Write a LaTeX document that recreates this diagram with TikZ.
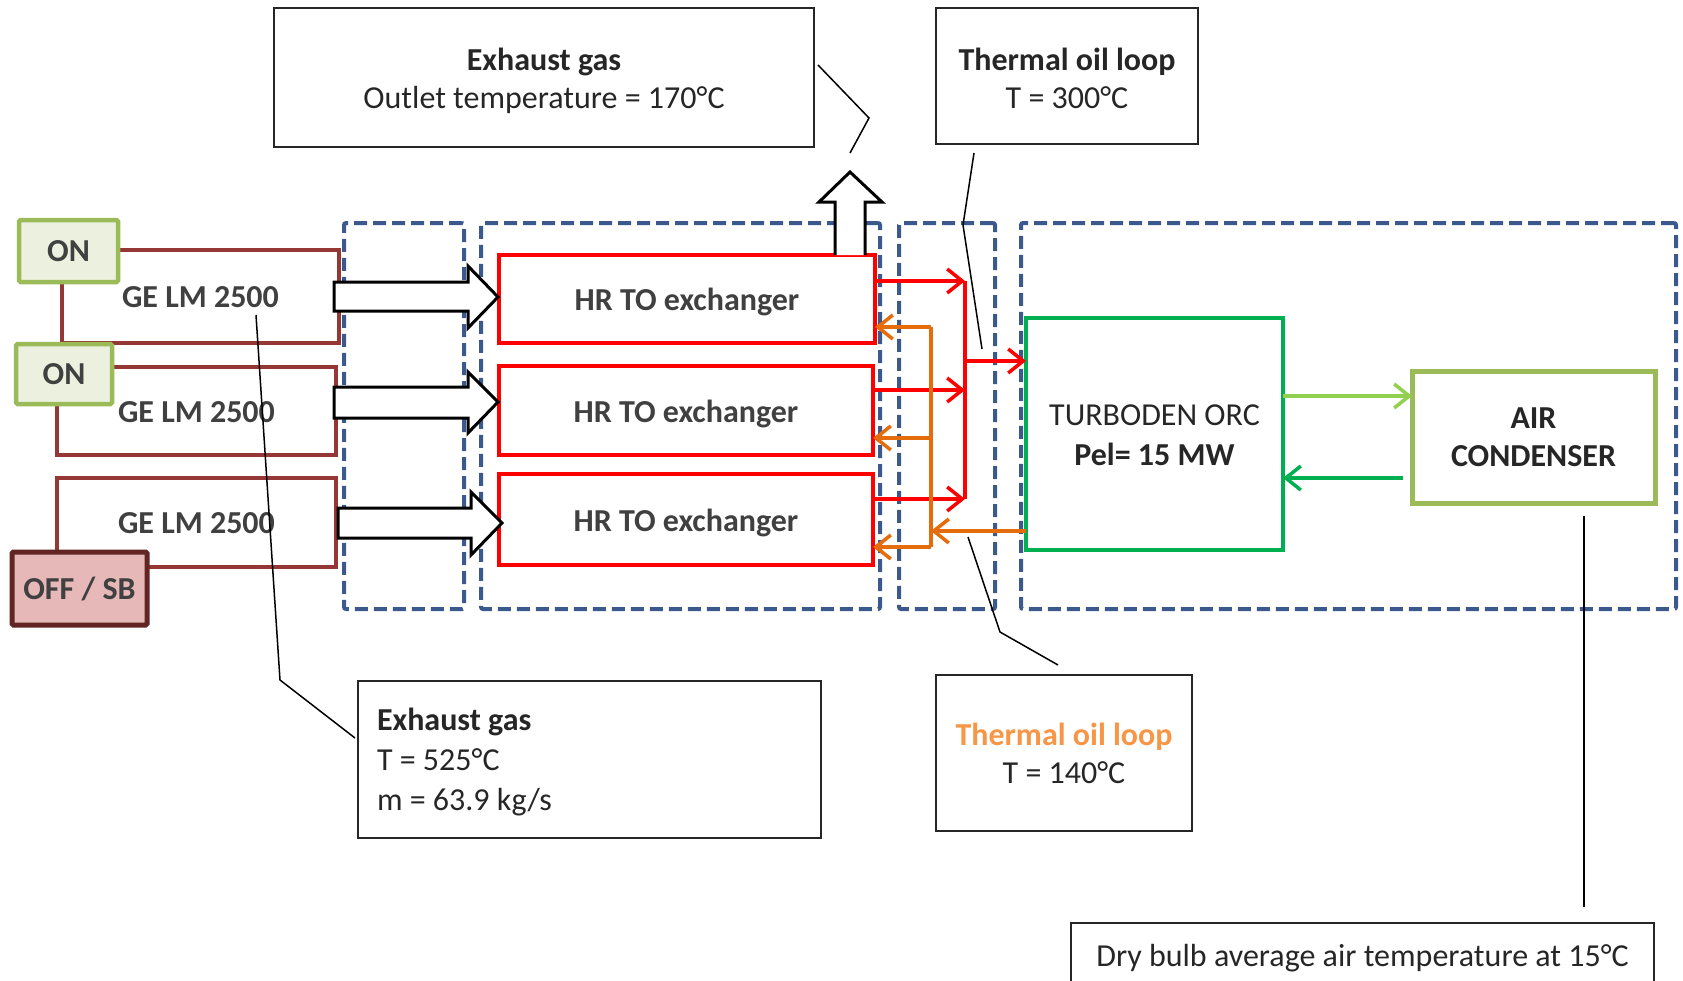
\documentclass[tikz,border=0pt]{standalone}
\usepackage{fontspec}
\setmainfont{Carlito}
\usetikzlibrary{arrows.meta}
\definecolor{dashblue}{RGB}{59,89,140}
\definecolor{gered}{RGB}{149,55,53}
\definecolor{ongreen}{RGB}{155,187,89}
\definecolor{onfill}{RGB}{235,241,222}
\definecolor{offfill}{RGB}{230,185,184}
\definecolor{offdraw}{RGB}{99,37,35}
\definecolor{hrred}{RGB}{255,0,0}
\definecolor{oilorange}{RGB}{228,108,10}
\definecolor{oiltxt}{RGB}{247,150,70}
\definecolor{orcgreen}{RGB}{0,176,80}
\definecolor{lightgreen}{RGB}{146,208,80}
\definecolor{txtgray}{RGB}{64,64,64}
\definecolor{txtdark}{RGB}{38,38,38}
\newcommand{\lowerby}[2]{\raisebox{-#1}[\height][\depth]{#2}}
\begin{document}
\begin{tikzpicture}[x=1pt,y=-1pt,
  base/.style={inner sep=0pt, outer sep=0pt, align=center, font=\fontsize{32}{38}\selectfont},
  callout/.style={base, draw=txtdark, line width=2pt, text=txtdark},
  gebox/.style={base, draw=gered, line width=3.5pt, fill=white, text=txtgray, font=\fontsize{32}{38}\selectfont\bfseries},
  onbox/.style={base, draw=ongreen, line width=4.5pt, fill=onfill, text=txtgray, rounded corners=1.5pt, font=\fontsize{32}{38}\selectfont\bfseries},
  offbox/.style={base, draw=offdraw, line width=5pt, fill=offfill, text=txtgray, rounded corners=1.5pt, font=\fontsize{32}{38}\selectfont\bfseries},
  hrbox/.style={base, draw=hrred, line width=3.5pt, fill=white, text=txtgray, font=\fontsize{32}{38}\selectfont\bfseries},
  dashbox/.style={base, draw=dashblue, line width=4pt, dash pattern=on 13pt off 6pt, rounded corners=2pt},
  orcbox/.style={base, draw=orcgreen, line width=3.5pt, text=txtdark},
  airbox/.style={base, draw=ongreen, line width=5pt, text=txtdark, font=\fontsize{32}{38}\selectfont\bfseries},
  blockarrow/.style={draw=black, fill=white, line width=3pt, line join=miter},
  redarr/.style={draw=hrred, line width=3.5pt, -{Straight Barb[length=15pt,width=24pt]}},
  redline/.style={draw=hrred, line width=3.5pt},
  orarr/.style={draw=oilorange, line width=3.5pt, -{Straight Barb[length=15pt,width=24pt]}},
  orline/.style={draw=oilorange, line width=3.5pt},
  lgarr/.style={draw=lightgreen, line width=3.5pt, -{Straight Barb[length=15pt,width=24pt]}},
  dgarr/.style={draw=orcgreen, line width=3.5pt, -{Straight Barb[length=15pt,width=24pt]}},
  leader/.style={draw=black, line width=1.5pt}
]
\useasboundingbox (0,0) rectangle (1683,980);

% dashed groups
\node[dashbox, minimum width=120pt, minimum height=386pt] (d1) at (404,416) {};
\node[dashbox, minimum width=399pt, minimum height=386pt] (d2) at (680.5,416) {};
\node[dashbox, minimum width=96pt, minimum height=386pt] (d3) at (947,416) {};
\node[dashbox, minimum width=655pt, minimum height=386pt] (d4) at (1348.5,416) {};

% gas turbines
\node[gebox, minimum width=277pt, minimum height=93pt] (ge1) at (200.5,296.5) {\lowerby{1pt}{GE LM 2500}};
\node[gebox, minimum width=279pt, minimum height=88pt] (ge2) at (196.5,411) {\lowerby{1pt}{GE LM 2500}};
\node[gebox, minimum width=279pt, minimum height=89pt] (ge3) at (196.5,522.5) {\lowerby{1pt}{GE LM 2500}};
\node[onbox, minimum width=99pt, minimum height=62pt] (on1) at (68.5,251) {ON};
\node[onbox, minimum width=96pt, minimum height=60pt] (on2) at (64,374) {ON};
\node[offbox, minimum width=135pt, minimum height=73pt] (off3) at (79.5,588.5) {OFF / SB};

% heat recovery exchangers
\node[hrbox, minimum width=376pt, minimum height=88pt] (hr1) at (687,299) {\lowerby{3pt}{HR TO exchanger}};
\node[hrbox, minimum width=374pt, minimum height=89pt] (hr2) at (686,410.5) {\lowerby{3pt}{HR TO exchanger}};
\node[hrbox, minimum width=374pt, minimum height=91pt] (hr3) at (686,519.5) {\lowerby{3pt}{HR TO exchanger}};

% block arrows (exhaust gas)
\draw[blockarrow] (334,282) -- (468,282) -- (468,266) -- (498,297) -- (468,328) -- (468,311) -- (334,311) -- cycle;
\draw[blockarrow] (334,387) -- (468,387) -- (468,372) -- (498,402) -- (468,433) -- (468,418) -- (334,418) -- cycle;
\draw[blockarrow] (338,508) -- (471,508) -- (471,492) -- (502,523) -- (471,555) -- (471,538) -- (338,538) -- cycle;
\draw[blockarrow] (835,255) -- (835,202) -- (819,202) -- (850,172) -- (882,202) -- (865,202) -- (865,255);

% ORC and condenser
\node[orcbox, minimum width=257pt, minimum height=232pt] (orc) at (1154.5,434) {TURBODEN ORC\\\lowerby{2pt}{\textbf{Pel= 15 MW}}};
\node[airbox, minimum width=243pt, minimum height=132pt] (air) at (1533.5,437) {AIR\\CONDENSER};

% thermal oil hot side
\coordinate (rb1) at (965,281);
\coordinate (rbm) at (965,361);
\coordinate (rb2) at (965,390);
\coordinate (rb3) at (965,499);
\draw[redarr] (hr1.east |- rb1) -- (rb1);
\draw[redarr] (hr2.east |- rb2) -- (rb2);
\draw[redarr] (hr3.east |- rb3) -- (rb3);
\draw[redline] (rb1) -- (rb3);
\draw[redarr] (rbm) -- (orc.west |- rbm);

% thermal oil cold side
\coordinate (ob1) at (931,327);
\coordinate (ob2) at (931,438);
\coordinate (ob3) at (931,547);
\coordinate (obin) at (931,531);
\draw[orarr] (orc.west |- obin) -- (obin);
\draw[orline] (ob1) -- (ob3);
\draw[orarr] (ob1) -- (hr1.east |- ob1);
\draw[orarr] (ob2) -- (hr2.east |- ob2);
\draw[orarr] (ob3) -- (hr3.east |- ob3);

% ORC <-> condenser
\coordinate (ga) at (1283,396);
\coordinate (gb) at (1403,478);
\draw[lgarr] (orc.east |- ga) -- (air.west |- ga);
\draw[dgarr] (gb) -- (orc.east |- gb);

% callouts
\node[callout, minimum width=540pt, minimum height=139pt] (exh1) at (544,77.5) {\lowerby{3pt}{\textbf{Exhaust gas}}\\\lowerby{3pt}{Outlet temperature = 170°C}};
\node[callout, minimum width=262pt, minimum height=136pt] (th1) at (1067,76) {\lowerby{2pt}{\textbf{Thermal oil loop}}\\\lowerby{2pt}{T = 300°C}};
\node[callout, minimum width=463pt, minimum height=157pt] (exh2) at (589.5,759.5) {};
\node[base, anchor=west, align=left, text=txtdark, font=\fontsize{32}{40}\selectfont] (exh2t) at (377,762) {\textbf{Exhaust gas}\\T = 525°C\\m = 63.9 kg/s};
\node[callout, minimum width=256pt, minimum height=156pt] (th2) at (1064,753) {\textcolor{oiltxt}{\textbf{Thermal oil loop}}\\T = 140°C};
\node[callout, minimum width=583pt, minimum height=70pt, font=\fontsize{32}{38}\selectfont] (dry) at (1362.5,958) {Dry bulb average air temperature at 15°C};

% leader lines
\coordinate (l1a) at (818,65);
\coordinate (l1b) at (869,118);
\coordinate (l1c) at (850,153);
\draw[leader] (l1a) -- (l1b) -- (l1c);
\coordinate (l2a) at (974,153);
\coordinate (l2b) at (963,225);
\coordinate (l2c) at (982,349);
\draw[leader] (l2a) -- (l2b) -- (l2c);
\coordinate (l3a) at (256,315);
\coordinate (l3b) at (280,680);
\coordinate (l3c) at (355,738);
\draw[leader] (l3a) -- (l3b) -- (l3c);
\coordinate (l4a) at (968,537);
\coordinate (l4b) at (1000,632);
\coordinate (l4c) at (1058,665);
\draw[leader] (l4a) -- (l4b) -- (l4c);
\coordinate (l5a) at (1584,516);
\coordinate (l5b) at (1584,907);
\draw[leader] (l5a) -- (l5b);
\end{tikzpicture}
\end{document}
